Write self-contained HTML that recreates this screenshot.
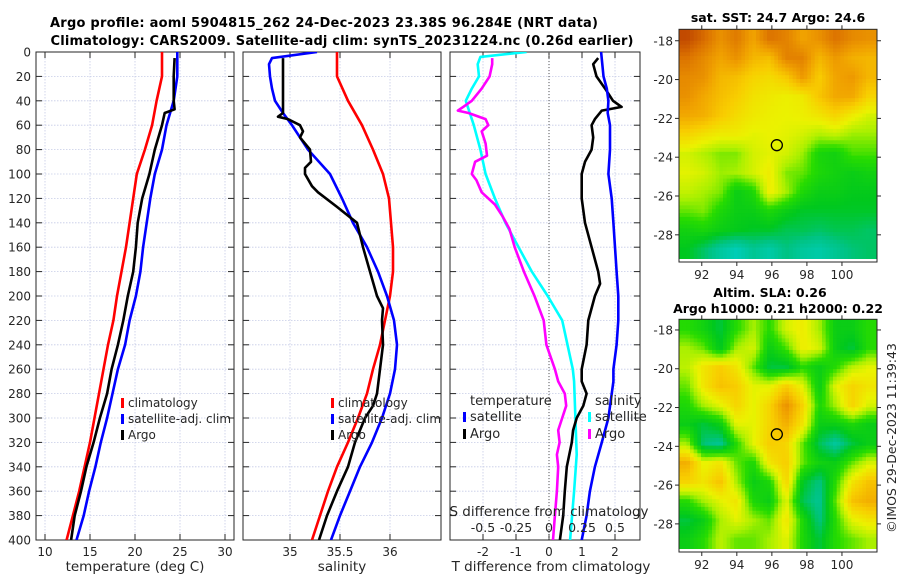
<!DOCTYPE html>
<html><head><meta charset="utf-8">
<style>
html,body{margin:0;padding:0;background:#fff;}
svg{display:block;font-family:"DejaVu Sans","Liberation Sans",sans-serif;}
</style></head>
<body>
<svg id="fig" width="900" height="580" viewBox="0 0 900 580" xmlns="http://www.w3.org/2000/svg">
<g id="layer"></g>
</svg>
<script>
// ---------- data ----------
const depths = [0,20,40,60,80,100,120,140,160,180,200,220,240,260,280,300,320,340,360,380,400];
const tClim = [23.0,23.0,22.4,21.9,21.1,20.2,19.8,19.4,19.0,18.5,18.0,17.6,17.0,16.5,16.0,15.5,15.0,14.4,13.8,13.1,12.4];
const tSat  = [24.7,24.7,24.3,23.5,23.0,22.2,21.7,21.3,20.9,20.6,20.1,19.4,18.9,18.1,17.5,16.9,16.2,15.6,14.9,14.3,13.5];
const argoDepthT = [5,20,40,47,50,60,80,100,120,140,160,180,200,220,240,260,280,300,320,340,360,380,400];
const tArgo = [24.4,24.3,24.3,24.4,23.3,23.0,22.2,21.6,20.8,20.3,20.1,19.8,19.2,18.7,18.1,17.4,16.9,16.1,15.4,14.6,14.0,13.3,12.9];

const sClim = [35.47,35.47,35.58,35.72,35.83,35.93,35.99,36.01,36.03,36.03,36.00,35.95,35.90,35.83,35.77,35.68,35.58,35.47,35.38,35.30,35.22];
const satDepthS = [0,5,10,20,30,40,50,60,80,100,120,140,160,180,200,220,240,260,280,300,320,340,360,380,400];
const sSat = [35.27,34.82,34.79,34.80,34.82,34.85,34.93,35.02,35.18,35.40,35.52,35.63,35.77,35.88,35.97,36.04,36.07,36.05,36.00,35.92,35.82,35.70,35.60,35.50,35.41];
const argoDepthS = [5,20,40,50,53,55,60,65,70,80,90,95,100,110,115,127,140,160,180,200,210,220,240,260,280,290,300,320,340,360,380,400];
const sArgo = [34.93,34.93,34.93,34.93,34.88,34.98,35.10,35.13,35.10,35.20,35.21,35.15,35.15,35.22,35.28,35.47,35.67,35.73,35.80,35.87,35.93,35.92,35.93,35.90,35.87,35.83,35.75,35.65,35.58,35.47,35.37,35.29];

const dDepthS = [0,4,10,20,30,40,50,60,80,100,120,140,160,180,200,220,240,260,270,300,330,360,400];
const dSsat = [-0.17,-0.52,-0.54,-0.53,-0.585,-0.63,-0.60,-0.57,-0.52,-0.48,-0.41,-0.33,-0.23,-0.13,-0.01,0.10,0.14,0.18,0.19,0.20,0.21,0.19,0.16];
const dDepthSA = [5,10,20,30,40,45,48,50,55,60,65,75,85,90,100,105,115,125,135,145,160,180,200,220,240,260,270,280,290,300,310,320,330,340,360,380,400];
const dSargo = [-0.43,-0.43,-0.45,-0.51,-0.585,-0.65,-0.69,-0.61,-0.48,-0.46,-0.51,-0.48,-0.47,-0.56,-0.585,-0.55,-0.51,-0.41,-0.35,-0.30,-0.26,-0.19,-0.11,-0.04,-0.02,0.045,0.07,0.12,0.13,0.10,0.07,0.08,0.06,0.07,0.06,0.045,0.03];
const dDepthTA = [5,10,20,30,40,45,48,55,60,70,80,90,100,120,140,160,180,190,200,220,240,260,270,280,290,300,310,320,340,360,380,400];
const dTargo = [1.49,1.34,1.44,1.70,1.94,2.20,1.60,1.39,1.29,1.34,1.29,1.09,0.99,0.99,1.09,1.29,1.49,1.55,1.39,1.19,1.14,0.99,0.99,1.14,1.04,0.84,0.73,0.69,0.54,0.48,0.43,0.33];
const dDepthTS = [0,20,30,40,50,60,80,100,120,140,160,180,200,220,240,260,270,300,320,340,360,380,400];
const dTsat = [1.58,1.65,1.75,1.80,1.78,1.85,1.85,1.80,1.90,1.95,2.00,2.05,2.10,2.10,2.05,1.95,1.95,1.80,1.60,1.39,1.24,1.14,0.99];

const depthTicks = [0,20,40,60,80,100,120,140,160,180,200,220,240,260,280,300,320,340,360,380,400];
const tTicks = [10,15,20,25,30];
const sTicks = [35,35.5,36];
const dtTicks = [-2,-1,0,1,2];
const dsTicks = [-0.5,-0.25,0,0.25,0.5];
const dsTickLabels = ["-0.5","-0.25","0","0.25","0.5"];
const latTicks = [-18,-20,-22,-24,-26,-28];
const lonTicks = [92,94,96,98,100];

const sstGrid = [
[0.97,0.9,0.8,0.86,0.75,0.88,0.84,0.75,0.8,0.88,0.82,0.8],
[0.88,0.82,0.75,0.8,0.7,0.68,0.84,0.84,0.7,0.78,0.72,0.7],
[0.82,0.8,0.7,0.68,0.62,0.6,0.65,0.78,0.64,0.75,0.78,0.7],
[0.8,0.74,0.68,0.64,0.58,0.56,0.54,0.56,0.66,0.74,0.74,0.62],
[0.74,0.72,0.65,0.6,0.56,0.54,0.53,0.54,0.57,0.62,0.55,0.5],
[0.62,0.58,0.55,0.55,0.52,0.53,0.52,0.5,0.46,0.48,0.44,0.44],
[0.5,0.46,0.42,0.42,0.5,0.52,0.5,0.44,0.32,0.3,0.38,0.38],
[0.52,0.5,0.44,0.45,0.5,0.55,0.42,0.4,0.33,0.3,0.28,0.3],
[0.48,0.45,0.42,0.28,0.33,0.55,0.45,0.33,0.28,0.28,0.26,0.26],
[0.4,0.42,0.33,0.28,0.28,0.33,0.28,0.24,0.24,0.24,0.24,0.24],
[0.3,0.32,0.28,0.26,0.24,0.24,0.2,0.2,0.18,0.2,0.2,0.18],
[0.25,0.18,0.1,0.05,0.12,0.08,0.15,0.1,0.08,0.12,0.16,0.18]];
const slaGrid = [
[0.35,0.3,0.22,0.35,0.45,0.35,0.5,0.55,0.45,0.28,0.28,0.35],
[0.45,0.4,0.25,0.45,0.5,0.28,0.38,0.55,0.5,0.28,0.22,0.35],
[0.47,0.57,0.64,0.57,0.4,0.22,0.22,0.35,0.28,0.35,0.47,0.52],
[0.4,0.57,0.67,0.64,0.52,0.52,0.64,0.52,0.28,0.52,0.62,0.57],
[0.33,0.45,0.52,0.62,0.52,0.62,0.8,0.62,0.33,0.45,0.62,0.5],
[0.28,0.22,0.28,0.52,0.52,0.62,0.72,0.57,0.28,0.28,0.33,0.28],
[0.45,0.16,0.12,0.35,0.52,0.64,0.62,0.4,0.2,0.1,0.22,0.28],
[0.72,0.52,0.57,0.4,0.33,0.57,0.64,0.4,0.3,0.28,0.4,0.5],
[0.62,0.57,0.67,0.45,0.28,0.33,0.62,0.25,0.15,0.35,0.57,0.67],
[0.35,0.45,0.52,0.57,0.33,0.28,0.52,0.2,0.12,0.4,0.67,0.72],
[0.22,0.28,0.45,0.52,0.45,0.4,0.57,0.33,0.15,0.35,0.52,0.57],
[0.28,0.35,0.47,0.4,0.4,0.45,0.52,0.33,0.22,0.35,0.4,0.45]];
const argoLon = 96.284, argoLat = -23.38;

// ---------- helpers ----------
const NS="http://www.w3.org/2000/svg";
const layer=document.getElementById('layer');
function mk(tag,attrs,parent){const e=document.createElementNS(NS,tag);for(const k in attrs)e.setAttribute(k,attrs[k]);(parent||layer).appendChild(e);return e;}
function txt(x,y,s,attrs,parent){const e=mk('text',Object.assign({x:x,y:y,'font-size':12,fill:'#262626'},attrs||{}),parent);e.textContent=s;return e;}

const yTop=52, yBot=540;
const yD = d => yTop + (d/400)*(yBot-yTop);

function panel(name,x0,x1,xOf,ticks,labelTicks,showYLabels){
  const g=mk('g',{});
  
  
  mk('rect',{x:x0,y:yTop,width:x1-x0,height:yBot-yTop,fill:'#fff'},g);
  depthTicks.forEach(d=>{ if(d>0&&d<400) mk('line',{x1:x0,x2:x1,y1:yD(d),y2:yD(d),stroke:'#c5cbe6','stroke-width':0.8,'stroke-dasharray':'1.5,1.5'},g);});
  ticks.forEach(v=>{const x=xOf(v); if(x>x0+1&&x<x1-1) mk('line',{x1:x,x2:x,y1:yTop,y2:yBot,stroke:'#c5cbe6','stroke-width':0.8,'stroke-dasharray':'1.5,1.5'},g);});
  mk('rect',{x:x0,y:yTop,width:x1-x0,height:yBot-yTop,fill:'none',stroke:'#262626','stroke-width':1},g);
  depthTicks.forEach(d=>{mk('line',{x1:x0,x2:x0+6,y1:yD(d),y2:yD(d),stroke:'#262626'},g);mk('line',{x1:x1-6,x2:x1,y1:yD(d),y2:yD(d),stroke:'#262626'},g);
    if(showYLabels){const t=txt(31,yD(d)+4.5,String(d),{'text-anchor':'end'},g);}});
  ticks.forEach(v=>{const x=xOf(v);mk('line',{x1:x,x2:x,y1:yBot,y2:yBot-6,stroke:'#262626'},g);mk('line',{x1:x,x2:x,y1:yTop,y2:yTop+6,stroke:'#262626'},g);
    if(labelTicks){const t=txt(x,556,String(v),{'text-anchor':'middle'},g);}});
  return g;
}
function line(g,name,xs,ds,xOf,color,clip){
  const pts=xs.map((v,i)=>xOf(v).toFixed(1)+','+yD(ds[i]).toFixed(1)).join(' ');
  const p=mk('polyline',{points:pts,fill:'none',stroke:color,'stroke-width':2.6,'stroke-linejoin':'round','clip-path':clip},g);
  
  
}
function legend(g,x,y,color,label,fs){
  mk('rect',{x:x,y:y-9,width:3,height:10,fill:color},g);
  const t=txt(x+7,y,label,{'font-size':fs||12},g);
  
  
}
function clip(id,x0,x1){const d=mk('clipPath',{id:id});mk('rect',{x:x0,y:yTop,width:x1-x0,height:yBot-yTop},d);return 'url(#'+id+')';}

// Titles
let t1=txt(324,27,'Argo profile: aoml 5904815_262 24-Dec-2023 23.38S 96.284E (NRT data)',{'font-weight':'bold','font-size':13,'text-anchor':'middle',textLength:548,fill:'#000'});


let t2=txt(342,45,'Climatology: CARS2009. Satellite-adj clim: synTS_20231224.nc (0.26d earlier)',{'font-weight':'bold','font-size':13,'text-anchor':'middle',textLength:583,fill:'#000'});



// Panel 1: temperature
const xT = v => 45 + (v-10)*9;
const g1=panel('temperature-panel',36,234,xT,tTicks,true,true);
const c1=clip('c1',36,234);
line(g1,'temp-climatology-line',tClim,depths,xT,'#ff0000',c1);
line(g1,'temp-satellite-line',tSat,depths,xT,'#0000ff',c1);
line(g1,'temp-argo-line',tArgo,argoDepthT,xT,'#000000',c1);
legend(g1,121,407,'#ff0000','climatology');
legend(g1,121,423,'#0000ff','satellite-adj. clim');
legend(g1,121,439,'#000000','Argo');
let xl1=txt(135,571,'temperature (deg C)',{'text-anchor':'middle','font-size':13.5});



// Panel 2: salinity
const xS = v => 290 + (v-35)*100;
const g2=panel('salinity-panel',243,441,xS,sTicks,true,false);
const c2=clip('c2',243,441);
line(g2,'sal-climatology-line',sClim,depths,xS,'#ff0000',c2);
line(g2,'sal-satellite-line',sSat,satDepthS,xS,'#0000ff',c2);
line(g2,'sal-argo-line',sArgo,argoDepthS,xS,'#000000',c2);
legend(g2,331,407,'#ff0000','climatology');
legend(g2,331,423,'#0000ff','satellite-adj. clim');
legend(g2,331,439,'#000000','Argo');
let xl2=txt(342,571,'salinity',{'text-anchor':'middle','font-size':13.5});



// Panel 3: differences
const xDT = v => 549 + v*33;
const xDS = v => 549 + v*132;
const g3=panel('difference-panel',450,640,xDT,dtTicks,true,false);
mk('line',{x1:549,x2:549,y1:yTop,y2:yBot,stroke:'#555','stroke-width':1,'stroke-dasharray':'1,2'},g3);
const c3=clip('c3',450,640);
line(g3,'sal-diff-satellite-line',dSsat,dDepthS,xDS,'#00ffff',c3);
line(g3,'sal-diff-argo-line',dSargo,dDepthSA,xDS,'#ff00ff',c3);
line(g3,'temp-diff-argo-line',dTargo,dDepthTA,xDT,'#000000',c3);
line(g3,'temp-diff-satellite-line',dTsat,dDepthTS,xDT,'#0000ff',c3);
let lt=txt(470,405,'temperature',{'font-size':13},g3);  
let ls=txt(595,405,'salinity',{'font-size':13},g3);  
legend(g3,463,421,'#0000ff','satellite',13);
legend(g3,463,438,'#000000','Argo',13);
legend(g3,588,421,'#00ffff','satellite',13);
legend(g3,588,438,'#ff00ff','Argo',13);
dsTicks.forEach((v,i)=>{const t=txt(xDS(v),532,dsTickLabels[i],{'text-anchor':'middle','font-size':12.5},g3);});
let sdl=txt(549,516,'S difference from climatology',{'text-anchor':'middle','font-size':13.5},g3);


let xl3=txt(551,571,'T difference from climatology',{'text-anchor':'middle','font-size':13.5});



// ---------- maps ----------
const stops=[[0,[0,210,210]],[0.15,[0,195,130]],[0.25,[0,200,30]],[0.36,[40,220,0]],[0.45,[170,240,0]],[0.53,[235,242,0]],[0.64,[248,205,0]],[0.76,[240,160,0]],[0.88,[220,115,0]],[1,[185,60,0]]];
function cmap(v){v=Math.max(0,Math.min(1,v));for(let i=1;i<stops.length;i++){if(v<=stops[i][0]){const a=stops[i-1],b=stops[i];const f=(v-a[0])/(b[0]-a[0]);const c=a[1].map((x,k)=>Math.round(x+(b[1][k]-x)*f));return 'rgb('+c.join(',')+')';}}return 'rgb(185,60,0)';}
function sample(grid,fx,fy){const R=grid.length,C=grid[0].length;let gx=fx*C-0.5,gy=fy*R-0.5;gx=Math.max(0,Math.min(C-1,gx));gy=Math.max(0,Math.min(R-1,gy));const x0=Math.floor(gx),y0=Math.floor(gy),x1=Math.min(C-1,x0+1),y1=Math.min(R-1,y0+1);const ax=gx-x0,ay=gy-y0;return grid[y0][x0]*(1-ax)*(1-ay)+grid[y0][x1]*ax*(1-ay)+grid[y1][x0]*(1-ax)*ay+grid[y1][x1]*ax*ay;}

function map(name,grid,top,bot,latTop,latBot){
  const L=679,Rr=877,lonL=90.7,lonR=102.0;
  const xLon=v=>L+(v-lonL)/(lonR-lonL)*(Rr-L);
  const yLat=v=>top+(latTop-v)/(latTop-latBot)*(bot-top);
  const g=mk('g',{});
  
  
  const N=54,M=60,h=bot-3-top;
  for(let j=0;j<M;j++)for(let i=0;i<N;i++){
    const v=sample(grid,(i+0.5)/N,(j+0.5)/M);
    mk('rect',{x:(L+i*(Rr-L)/N).toFixed(2),y:(top+j*h/M).toFixed(2),width:((Rr-L)/N+0.5).toFixed(2),height:(h/M+0.5).toFixed(2),fill:cmap(v)},g);
  }
  mk('rect',{x:L,y:bot-3,width:Rr-L,height:3,fill:'#fff'},g);
  mk('rect',{x:L,y:top,width:Rr-L,height:bot-top,fill:'none',stroke:'#262626','stroke-width':1},g);
  latTicks.forEach(v=>{const y=yLat(v);mk('line',{x1:L-4,x2:L,y1:y,y2:y,stroke:'#262626'},g);mk('line',{x1:Rr,x2:Rr+4,y1:y,y2:y,stroke:'#262626'},g);
    const t=txt(673,y+4.5,String(v),{'text-anchor':'end'},g);});
  lonTicks.forEach(v=>{const x=xLon(v);mk('line',{x1:x,x2:x,y1:bot,y2:bot+4,stroke:'#262626'},g);mk('line',{x1:x,x2:x,y1:top-4,y2:top,stroke:'#262626'},g);
    const t=txt(x,bot+17,String(v),{'text-anchor':'middle'},g);});
  const c=mk('circle',{cx:xLon(argoLon),cy:yLat(argoLat),r:5.5,fill:'none',stroke:'#000','stroke-width':1.3},g);
  
  
}
map('sst-map',sstGrid,29.3,262,-17.41,-29.4);
map('sla-map',slaGrid,319.3,552,-17.45,-29.45);

let m1=txt(778,22,'sat. SST: 24.7 Argo: 24.6',{'font-weight':'bold','font-size':12.5,'text-anchor':'middle',fill:'#000'});


let m2=txt(770,297,'Altim. SLA: 0.26',{'font-weight':'bold','font-size':12.5,'text-anchor':'middle',fill:'#000'});


let m3=txt(778,313,'Argo h1000: 0.21 h2000: 0.22',{'font-weight':'bold','font-size':12.5,'text-anchor':'middle',fill:'#000'});


let ts=txt(0,0,'©IMOS 29-Dec-2023 11:39:43',{'text-anchor':'middle','font-size':12.5,transform:'translate(896,438) rotate(-90)'});


</script>
</body></html>
